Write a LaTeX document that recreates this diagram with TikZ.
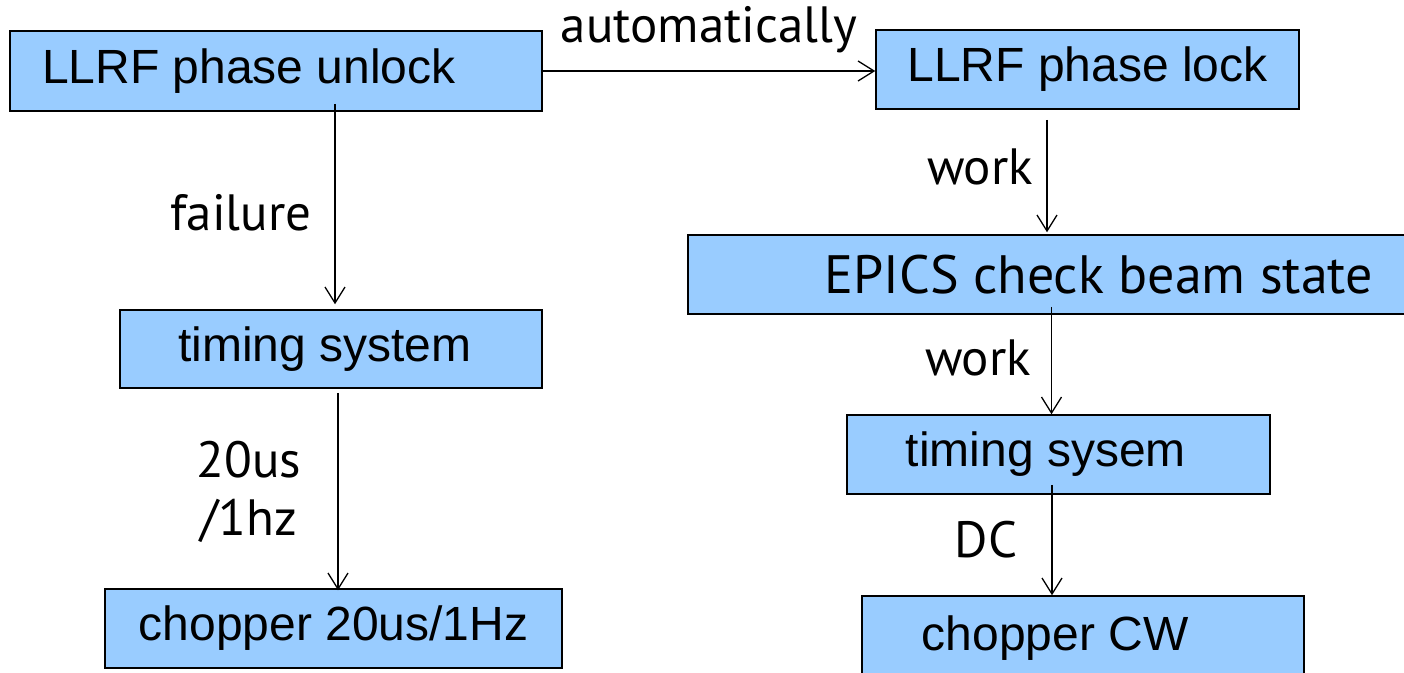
\documentclass[tikz,border=0pt]{standalone}
\usepackage{fontspec}
\setmainfont{Liberation Sans}
\newfontfamily\lblfont{PT Sans}
\usetikzlibrary{arrows.meta}
\definecolor{boxblue}{HTML}{99CCFF}
\tikzset{
  box/.style={draw=black, fill=boxblue, line width=1.5pt, inner sep=0pt,
    font=\fontsize{48}{56}\selectfont},
  lbl/.style={inner sep=0pt, font=\lblfont\fontsize{51}{58}\selectfont, align=center},
  arr/.style={line width=1.3pt, -{Straight Barb[length=16pt,width=20pt,line width=1.3pt]}}
}
\begin{document}
\begin{tikzpicture}[x=1pt,y=-1pt]
\useasboundingbox (0,0) rectangle (1404,672);
\node[box, minimum width=532pt, minimum height=80pt] (A) at (276,71) {LLRF phase unlock\hspace*{54pt}\mbox{}};
\node[box, minimum width=423pt, minimum height=79pt] (B) at (1087.5,69.5) {LLRF phase lock};
\node[box, minimum width=730pt, minimum height=79pt, anchor=west] (C) at (687,274.5) {\mbox{}\hspace*{92pt}\lblfont\fontsize{54}{60}\selectfont EPICS check beam state};
\node[box, minimum width=422pt, minimum height=78pt] (D) at (331,349) {timing system\hspace*{12pt}\mbox{}};
\node[box, minimum width=423pt, minimum height=79pt] (E) at (1058.5,454.5) {timing sysem\hspace*{25pt}\mbox{}};
\node[box, minimum width=457pt, minimum height=79pt] (F) at (333.5,628.5) {chopper 20us/1Hz};
\node[box, minimum width=442pt, minimum height=84pt] (G) at (1083,638) {chopper CW\hspace*{56pt}\mbox{}};

\draw[arr] (A.east) -- (A.east -| B.west);
\draw[arr] ([xshift=59pt,yshift=8pt]A.south) -- ([xshift=4pt,yshift=5pt]D.north);
\draw[arr] ([xshift=7pt,yshift=-4pt]D.south) -- ([xshift=4.5pt,yshift=-2pt]F.north);
\draw[arr] ([xshift=-40.5pt,yshift=-10pt]B.south) -- ([xshift=-40.5pt,yshift=2pt]B.south |- C.north);
\draw[arr] ([xshift=-7pt,yshift=8pt]C.south -| E.north) -- ([xshift=-7pt]E.north);
\draw[arr] ([xshift=-6.5pt,yshift=10pt]E.south) -- ([xshift=-6.5pt]E.south |- G.north);

\node[lbl] (l1) at (709,30) {automatically};
\node[lbl] (l2) at (241,213) {failure};
\node[lbl] (l3) at (249,492) {20us\\/1hz};
\node[lbl] (l4) at (980,167) {work};
\node[lbl] (l5) at (978,358) {work};
\node[lbl] (l6) at (986,540) {DC};
\end{tikzpicture}
\end{document}
